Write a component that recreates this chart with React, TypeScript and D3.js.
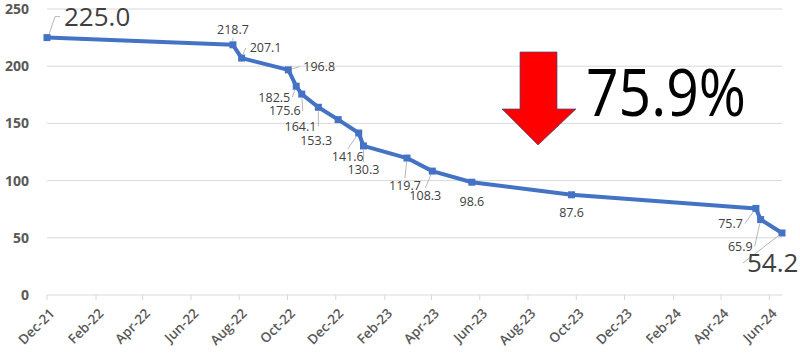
import React from 'react'
import * as d3 from 'd3'

const dates = [
  '2021-12-01', '2022-07-24', '2022-08-04', '2022-10-02', '2022-10-12',
  '2022-10-19', '2022-11-09', '2022-12-04', '2022-12-30', '2023-01-05',
  '2023-03-01', '2023-04-02', '2023-05-22', '2023-09-25', '2024-05-15',
  '2024-05-21', '2024-06-17',
]
const values = [
  225.0, 218.7, 207.1, 196.8, 182.5, 175.6, 164.1, 153.3, 141.6, 130.3,
  119.7, 108.3, 98.6, 87.6, 75.7, 65.9, 54.2,
]
const tickDates = [
  '2021-12-01', '2022-02-01', '2022-04-01', '2022-06-01', '2022-08-01',
  '2022-10-01', '2022-12-01', '2023-02-01', '2023-04-01', '2023-06-01',
  '2023-08-01', '2023-10-01', '2023-12-01', '2024-02-01', '2024-04-01',
  '2024-06-01',
]
const yTicks = [0, 50, 100, 150, 200, 250]
const dropLabel = '75.9%'

// label placement relative to each point: [dx, dy, anchor, big, leader]
const labelLayout: [number, number, string, boolean, boolean][] = [
  [17, -21, 'start', true, true],
  [0, -15, 'middle', false, true],
  [8, -10, 'start', false, true],
  [15, -3, 'start', false, true],
  [-6, 11, 'end', false, true],
  [-1, 17, 'end', false, true],
  [-2, 19, 'end', false, true],
  [-22, 21, 'middle', false, false],
  [-11, 24, 'middle', false, true],
  [0, 24, 'middle', false, true],
  [-2, 28, 'middle', false, true],
  [-7, 25, 'middle', false, true],
  [0, 19, 'middle', false, false],
  [0, 18, 'middle', false, false],
  [-13, 15, 'end', false, true],
  [-8, 27, 'end', false, true],
  [-35, 30, 'start', true, true],
]

const parse = d3.timeParse('%Y-%m-%d')
const fmt = d3.timeFormat('%b-%y')

const W = 800
const H = 364
const left = 47
const right = 782
const top = 9
const bottom = 295

export default function App() {
  const pts = dates.map((d, i) => ({ date: parse(d) as Date, value: values[i] }))
  const x = d3
    .scaleTime()
    .domain([parse('2021-12-01') as Date, parse('2024-06-17') as Date])
    .range([left, right])
  const y = d3.scaleLinear().domain([0, 250]).range([bottom, top])

  const line = d3
    .line<{ date: Date; value: number }>()
    .x(d => x(d.date))
    .y(d => y(d.value))

  const ticks = tickDates.map(t => parse(t) as Date)

  return (
    <div style={{ position: 'absolute', left: 0, top: 0 }}>
      <svg width={W} height={H} style={{ display: 'block', background: '#fff' }}>
        {yTicks.map(t => (
          <g key={t}>
            <line x1={left} x2={right} y1={y(t)} y2={y(t)} stroke="#d9d9d9" strokeWidth={1} />
            <text
              x={29}
              y={y(t)}
              dy="0.35em"
              textAnchor="end"
              fontFamily="'Open Sans', sans-serif"
              fontWeight={700}
              fontSize={14}
              fill="#595959"
            >
              {t}
            </text>
          </g>
        ))}
        {ticks.map((t, i) => (
          <g key={i}>
            <line x1={x(t)} x2={x(t)} y1={bottom} y2={bottom + 5} stroke="#d9d9d9" />
            <text
              transform={`translate(${x(t) + 5},${bottom + 16}) rotate(-45)`}
              textAnchor="end"
              dy="0.35em"
              fontFamily="'Open Sans', sans-serif"
              fontWeight={600}
              fontSize={13.5}
              fill="#595959"
            >
              {fmt(t)}
            </text>
          </g>
        ))}

        <path
          d={line(pts) || ''}
          fill="none"
          stroke="#4472C4"
          strokeWidth={4}
          strokeLinejoin="round"
        />
        {pts.map((p, i) => (
          <rect
            key={i}
            x={x(p.date) - 3.5}
            y={y(p.value) - 3.5}
            width={7}
            height={7}
            fill="#4472C4"
          />
        ))}

        {pts.map((p, i) => {
          const [dx, dy, anchor, big, leader] = labelLayout[i]
          const px = x(p.date)
          const py = y(p.value)
          const lx = px + dx
          const ly = py + dy
          let sx = lx
          let sy = ly
          if (anchor === 'start') sx = lx - 4
          else if (anchor === 'end') sx = lx + 2
          else sy = dy > 0 ? ly - 8 : ly + 8
          const ang = Math.atan2(sy - py, sx - px)
          const ex = px + Math.cos(ang) * 4
          const ey = py + Math.sin(ang) * 4
          return (
            <g key={i}>
              {leader && (
                <polyline
                  points={
                    big && anchor === 'start' && i === 0
                      ? `${ex},${ey} ${lx - 9},${ly} ${lx - 4},${ly}`
                      : `${ex},${ey} ${sx},${sy}`
                  }
                  fill="none"
                  stroke="#a6a6a6"
                  strokeWidth={0.8}
                />
              )}
              <text
                x={lx}
                y={ly}
                dy="0.35em"
                textAnchor={anchor as any}
                fontFamily="'Open Sans', sans-serif"
                fontSize={big ? 26 : 12.5}
                fill="#404040"
              >
                {p.value.toFixed(1)}
              </text>
            </g>
          )
        })}

        <polygon
          points="520,52 557,52 557,109 576,109 538,145 502,109 520,109"
          fill="#ff0000"
          stroke="#2f528f"
          strokeWidth={0.7}
        />
        <text
          x={586}
          y={116}
          fontFamily="'Open Sans', sans-serif"
          fontSize={66}
          fill="#000"
          textLength={160}
          lengthAdjust="spacingAndGlyphs"
        >
          {dropLabel}
        </text>
      </svg>
    </div>
  )
}
